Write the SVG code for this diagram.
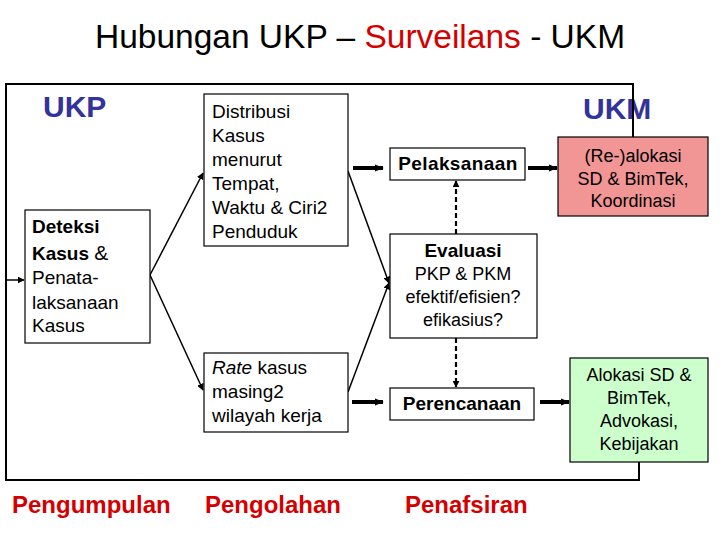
<svg xmlns="http://www.w3.org/2000/svg" width="720" height="540" viewBox="0 0 720 540">
<style>
text{font-family:"Liberation Sans",Arial,sans-serif;fill:#000}
.box{fill:#fff;stroke:#000;stroke-width:1.2}
.t{font-size:19px}
.c{text-anchor:middle}
.b{font-weight:bold}
.lab{font-size:30px;font-weight:bold;fill:#333399}
.red{font-size:24px;font-weight:bold;fill:#D40000}
.ln{fill:none;stroke:#000;stroke-width:2}
.thin{fill:none;stroke:#000;stroke-width:1.5}
.thick{fill:none;stroke:#000;stroke-width:4}
.dash{fill:none;stroke:#000;stroke-width:2.2;stroke-dasharray:5,3}
</style>
<defs>
<marker id="ah" viewBox="0 0 10 10" refX="9" refY="5" markerWidth="7" markerHeight="7" markerUnits="userSpaceOnUse" orient="auto"><path d="M0,0L10,5L0,10z" fill="#000"/></marker>
<marker id="ahs" viewBox="0 0 10 10" refX="9" refY="5" markerWidth="9" markerHeight="9" markerUnits="userSpaceOnUse" orient="auto"><path d="M0,1L10,5L0,9z" fill="#000"/></marker>
</defs>
<text x="360" y="48" class="c" style="font-size:33.5px">Hubungan UKP – <tspan style="fill:#D40000">Surveilans</tspan> - UKM</text>
<text x="43" y="117" class="lab">UKP</text>
<text x="583" y="119" class="lab">UKM</text>
<g id="frame">
<polyline class="ln" points="633,137 633,84 6,84 6,480 639,480 639,462"/>
</g>
<g id="connectors">
<line class="thin" x1="6" y1="280" x2="24" y2="280" marker-end="url(#ah)"/>
<line class="thin" x1="150" y1="275" x2="203" y2="173" marker-end="url(#ah)"/>
<line class="thin" x1="150" y1="275" x2="203" y2="390" marker-end="url(#ah)"/>
<line class="thin" x1="348" y1="171" x2="389" y2="283" marker-end="url(#ah)"/>
<line class="thin" x1="348" y1="392" x2="389" y2="283" marker-end="url(#ah)"/>
<line class="thick" x1="353" y1="168" x2="383" y2="168" marker-end="url(#ahs)"/>
<line class="thick" x1="528" y1="168" x2="557" y2="168" marker-end="url(#ahs)"/>
<line class="thick" x1="352" y1="402" x2="383" y2="402" marker-end="url(#ahs)"/>
<line class="thick" x1="540" y1="402" x2="569" y2="402" marker-end="url(#ahs)"/>
<line class="dash" x1="456" y1="234" x2="456" y2="181" marker-end="url(#ah)"/>
<line class="dash" x1="456" y1="338" x2="456" y2="387" marker-end="url(#ah)"/>
</g>
<g id="deteksi">
<rect class="box" x="25" y="210" width="125" height="133"/>
<text x="32" y="233" class="t b">Deteksi</text>
<text x="32" y="260" class="t"><tspan class="b">Kasus</tspan> <tspan style="font-size:21px">&amp;</tspan></text>
<text x="32" y="284" class="t">Penata-</text>
<text x="32" y="309" class="t">laksanaan</text>
<text x="32" y="332" class="t">Kasus</text>
</g>
<g id="distribusi">
<rect class="box" x="204" y="94" width="144" height="152"/>
<text x="212" y="118" class="t">Distribusi</text>
<text x="212" y="142" class="t">Kasus</text>
<text x="212" y="166" class="t">menurut</text>
<text x="212" y="190" class="t">Tempat,</text>
<text x="212" y="214" class="t">Waktu &amp; Ciri2</text>
<text x="212" y="238" class="t">Penduduk</text>
</g>
<g id="rate">
<rect class="box" x="204" y="353" width="144" height="79"/>
<text x="212" y="374" class="t"><tspan font-style="italic">Rate</tspan> kasus</text>
<text x="212" y="398" class="t">masing2</text>
<text x="212" y="422" class="t">wilayah kerja</text>
</g>
<g id="pelaksanaan">
<rect class="box" x="390" y="148" width="135" height="32"/>
<text x="458" y="170" class="t b c" style="letter-spacing:0.4px">Pelaksanaan</text>
</g>
<g id="evaluasi">
<rect class="box" x="390" y="234" width="147" height="104"/>
<text x="463" y="257" class="t b c">Evaluasi</text>
<text x="463" y="280" class="t c" style="font-size:18px">PKP &amp; PKM</text>
<text x="463" y="303" class="t c" style="font-size:18px">efektif/efisien?</text>
<text x="463" y="326" class="t c" style="font-size:18px">efikasius?</text>
</g>
<g id="perencanaan">
<rect class="box" x="390" y="388" width="144" height="32"/>
<text x="462" y="410" class="t b c">Perencanaan</text>
</g>
<g id="realokasi">
<rect x="558" y="137" width="150" height="79" fill="#F29595" stroke="#000" stroke-width="1.2"/>
<text x="633" y="162" class="t c" style="font-size:18px">(Re-)alokasi</text>
<text x="633" y="185" class="t c" style="font-size:18px">SD &amp; BimTek,</text>
<text x="633" y="207" class="t c" style="font-size:18px">Koordinasi</text>
</g>
<g id="alokasi">
<rect x="570" y="358" width="138" height="104" fill="#CCFFCC" stroke="#000" stroke-width="1.2"/>
<text x="639" y="381" class="t c" style="font-size:18px">Alokasi SD &amp;</text>
<text x="639" y="404" class="t c" style="font-size:18px">BimTek,</text>
<text x="639" y="427" class="t c" style="font-size:18px">Advokasi,</text>
<text x="639" y="450" class="t c" style="font-size:18px">Kebijakan</text>
</g>
<text x="12" y="513" class="red">Pengumpulan</text>
<text x="205" y="513" class="red">Pengolahan</text>
<text x="405" y="513" class="red">Penafsiran</text>
</svg>
